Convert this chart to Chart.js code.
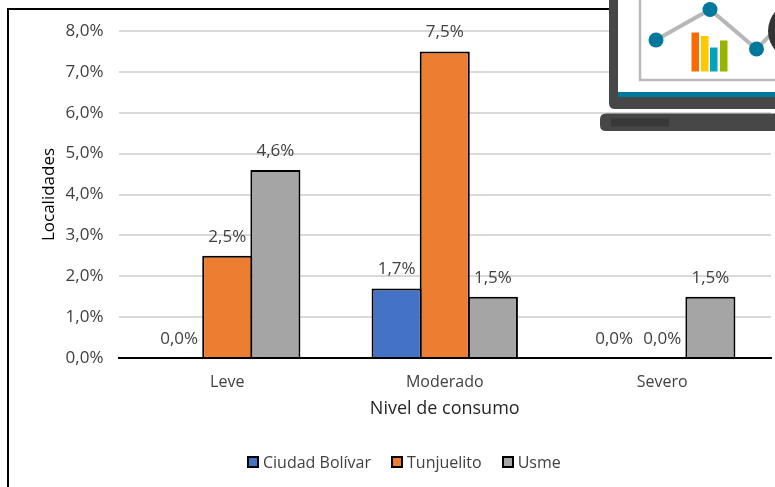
<!doctype html>
<html>
<head>
    <meta charset="UTF-8"/>
    <title>Nivel de consumo por localidad</title>
    <style type="text/css">
        body { margin: 0; padding: 0; background-color: #fff; overflow: hidden; }
        .chartBox { position: absolute; left: 0; top: 0; width: 775px; height: 487px; }
        .frame { position: absolute; left: 7px; top: 8px; width: 768px; height: 479px;
                 border-left: 2px solid #000; border-top: 2px solid #000; box-sizing: border-box; }
        .laptop { position: absolute; left: 0; top: 0; }
        .legend { position: absolute; left: 247px; top: 451px; height: 22px; display: flex; align-items: center;
                  font: 16px 'Open Sans', sans-serif; color: #404040; white-space: nowrap; }
        .legend span { display: inline-block; width: 12px; height: 12px; box-sizing: border-box;
                       border: 2px solid #000; margin-right: 4px; }
        .legend div { display: flex; align-items: center; margin-right: 20px; }
    </style>
</head>
<body>
    <div class="chartBox"><canvas id="myChart" width="775" height="487"></canvas></div>
    <div class="frame"></div>
    <div class="legend" id="legend"></div>
    <!-- laptop clip art in the top right corner -->
    <svg class="laptop" width="775" height="487">
        <path d="M609 0 H775 V109 H615 Q609 109 609 103 Z" fill="#474747"/>
        <rect x="618" y="0" width="157" height="92" fill="#fff"/>
        <rect x="618" y="92" width="157" height="5" fill="#00789c"/>
        <path d="M640 0 V80 H775" fill="none" stroke="#b9b9b9" stroke-width="2.5"/>
        <polyline points="656,40 710,9.5 756.5,49 780,25" fill="none" stroke="#b7b7b7" stroke-width="4"/>
        <circle cx="656" cy="40" r="7.5" fill="#00789c"/>
        <circle cx="710" cy="9.5" r="7.5" fill="#00789c"/>
        <circle cx="756.5" cy="49" r="7.5" fill="#00789c"/>
        <circle cx="797" cy="31" r="29" fill="#333"/>
        <rect x="691.5" y="32.5" width="7.5" height="39" fill="#ff6a00"/>
        <rect x="701" y="36" width="7.5" height="35.5" fill="#ffc800"/>
        <rect x="710" y="47.5" width="7.5" height="24" fill="#00a5bd"/>
        <rect x="720" y="40.5" width="7.5" height="31" fill="#99b400"/>
        <path d="M606 113.5 H775 V131 H606 Q600 131 600 125 V119.5 Q600 113.5 606 113.5 Z" fill="#474747"/>
        <rect x="611" y="118.5" width="58" height="8" fill="#383838"/>
    </svg>

    <script src="https://cdn.jsdelivr.net/npm/chart.js"></script>

    <script>
        // Data arrays
        const categories = ['Leve', 'Moderado', 'Severo'];
        const ciudadBolivar = [0, 1.7, 0];
        const tunjuelito = [2.5, 7.5, 0];
        const usme = [4.6, 1.5, 1.5];

        const fontName = "'Open Sans', sans-serif";

        function percent(value) {
            return value.toFixed(1).replace('.', ',') + '%';
        }

        // Draws the value above every bar
        const barLabels = {
            id: 'barLabels',
            afterDatasetsDraw(chart) {
                const ctx = chart.ctx;
                ctx.save();
                ctx.font = '17px ' + fontName;
                ctx.fillStyle = '#404040';
                ctx.textAlign = 'center';
                ctx.textBaseline = 'middle';
                chart.data.datasets.forEach((dataset, i) => {
                    chart.getDatasetMeta(i).data.forEach((bar, j) => {
                        ctx.fillText(percent(dataset.data[j]), bar.x, bar.y - 19);
                    });
                });
                ctx.restore();
            }
        };

        const myChart = new Chart(document.getElementById('myChart'), {
            type: 'bar',
            data: {
                labels: categories,
                datasets: [
                    { label: 'Ciudad Bolívar', data: ciudadBolivar, backgroundColor: '#4472c4' },
                    { label: 'Tunjuelito', data: tunjuelito, backgroundColor: '#ed7d31' },
                    { label: 'Usme', data: usme, backgroundColor: '#a5a5a5' }
                ]
            },
            plugins: [barLabels],
            options: {
                responsive: false,
                animation: false,
                layout: { padding: { left: 39, right: 4, top: 31, bottom: 67 } },
                datasets: {
                    bar: {
                        borderColor: '#000',
                        borderWidth: 2,
                        // bars overlap a little so neighbours share one border line
                        categoryPercentage: 0.664,
                        barPercentage: 1.04
                    }
                },
                scales: {
                    x: {
                        afterFit(axis) { axis.height = 62; },
                        grid: { display: false, drawTicks: false },
                        border: { color: '#000', width: 2 },
                        ticks: { color: '#404040', font: { family: fontName, size: 16 }, padding: 15 },
                        title: {
                            display: true,
                            text: 'Nivel de consumo',
                            color: '#262626',
                            font: { family: fontName, size: 18 },
                            padding: { top: 7, bottom: 0 }
                        }
                    },
                    y: {
                        min: 0,
                        max: 8,
                        afterFit(axis) { axis.width = 79.5; },
                        grid: { color: '#d9d9d9', lineWidth: 2, drawTicks: false },
                        border: { display: false },
                        ticks: {
                            stepSize: 1,
                            color: '#404040',
                            font: { family: fontName, size: 17 },
                            padding: 15,
                            callback: value => percent(value)
                        },
                        title: {
                            display: true,
                            text: 'Localidades',
                            color: '#000',
                            font: { family: fontName, size: 17 },
                            padding: 0
                        }
                    }
                },
                plugins: {
                    tooltip: { enabled: false },
                    legend: { display: false }
                }
            }
        });

        // Legend built from the chart's datasets
        myChart.data.datasets.forEach(dataset => {
            const item = document.createElement('div');
            const box = document.createElement('span');
            box.style.backgroundColor = dataset.backgroundColor;
            item.appendChild(box);
            item.appendChild(document.createTextNode(dataset.label));
            document.getElementById('legend').appendChild(item);
        });
    </script>
</body>
</html>
